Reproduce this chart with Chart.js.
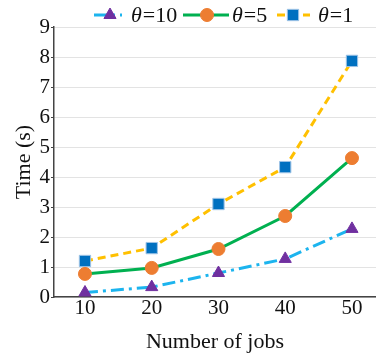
<!DOCTYPE html>
<html>
<head>
<meta charset="utf-8">
<script src="https://cdn.jsdelivr.net/npm/chart.js@4/dist/chart.umd.min.js"></script>
<style>
  html, body { margin: 0; padding: 0; background: #fff; }
</style>
</head>
<body>
<canvas id="chart" width="376" height="353"></canvas>
<script>
'use strict';

const jobs = [10, 20, 30, 40, 50];
const theta10 = [0.15, 0.33, 0.8, 1.27, 2.27];
const theta5 = [0.77, 0.97, 1.6, 2.7, 4.63];
const theta1 = [1.2, 1.63, 3.1, 4.33, 7.87];
const yTicks = [0, 1, 2, 3, 4, 5, 6, 7, 8, 9];
const legendLabels = ['10', '5', '1'];

const serif = '"Liberation Serif", "Times New Roman", serif';

const toXY = (vals) => vals.map((v, i) => ({ x: jobs[i], y: v }));

const datasets = [
    {
        label: 'θ=10',
        data: toXY(theta10),
        borderColor: '#1cb4ee',
        borderWidth: 3,
        borderDash: [13, 5, 3, 5],
        pointStyle: 'triangle',
        pointRadius: 7,
        pointBackgroundColor: '#7030a0',
        pointBorderColor: '#7030a0',
        pointBorderWidth: 1
    },
    {
        label: 'θ=5',
        data: toXY(theta5),
        borderColor: '#00b050',
        borderWidth: 3,
        pointStyle: 'circle',
        pointRadius: 6.5,
        pointBackgroundColor: '#ed7d31',
        pointBorderColor: '#ed7d31',
        pointBorderWidth: 1
    },
    {
        label: 'θ=1',
        data: toXY(theta1),
        borderColor: '#ffc000',
        borderWidth: 3,
        borderDash: [8, 5],
        pointStyle: 'rect',
        pointRadius: 8,
        pointBackgroundColor: '#0070c0',
        pointBorderColor: '#9dc3e6',
        pointBorderWidth: 1
    }
];

// legend drawn by hand: line + marker + label, like the original figure
const lineLegend = {
    id: 'lineLegend',
    afterDraw(chart) {
        const ctx = chart.ctx;
        const y = 15;
        const slots = [
            { x0: 94, x1: 122, mx: 110, tx: 131 },
            { x0: 183, x1: 229, mx: 207, tx: 232 },
            { x0: 277, x1: 310, mx: 293, tx: 318 }
        ];
        chart.data.datasets.forEach((ds, i) => {
            const s = slots[i];
            ctx.save();
            ctx.strokeStyle = ds.borderColor;
            ctx.lineWidth = 3;
            ctx.setLineDash(ds.borderDash || []);
            ctx.beginPath();
            ctx.moveTo(s.x0, y);
            ctx.lineTo(s.x1, y);
            ctx.stroke();
            ctx.setLineDash([]);
            ctx.fillStyle = ds.pointBackgroundColor;
            ctx.strokeStyle = ds.pointBorderColor;
            ctx.lineWidth = 1;
            Chart.helpers.drawPoint(ctx, {
                pointStyle: ds.pointStyle,
                radius: ds.pointRadius,
                rotation: 0,
                borderWidth: 1
            }, s.mx, y);
            ctx.fillStyle = '#111';
            ctx.textBaseline = 'middle';
            ctx.textAlign = 'left';
            ctx.font = 'italic 22px ' + serif;
            ctx.fillText('θ', s.tx, y + 1);
            const w = ctx.measureText('θ').width;
            ctx.font = '22px ' + serif;
            ctx.fillText('=' + legendLabels[i], s.tx + w + 1, y + 1);
            ctx.restore();
        });
    }
};

new Chart(document.getElementById('chart'), {
    type: 'line',
    data: { datasets: datasets },
    plugins: [lineLegend],
    options: {
        responsive: false,
        animation: false,
        layout: { autoPadding: false, padding: { top: 27, right: 0, left: 0, bottom: 0 } },
        plugins: {
            legend: { display: false },
            tooltip: { enabled: false }
        },
        scales: {
            x: {
                type: 'linear',
                min: 5.36,
                max: 53.6,
                afterBuildTicks: (scale) => {
                    scale.ticks = jobs.map(v => ({ value: v }));
                },
                afterFit: (scale) => {
                    scale.height = 56;
                    scale.paddingLeft = 0;
                    scale.paddingRight = 0;
                },
                grid: { display: false, drawTicks: false },
                border: { color: '#444', width: 1.5 },
                ticks: {
                    color: '#111',
                    padding: 1,
                    font: { family: serif, size: 21, lineHeight: 1 }
                },
                title: {
                    display: true,
                    text: 'Number of jobs',
                    color: '#111',
                    padding: 0,
                    font: { family: serif, size: 22, lineHeight: 1 }
                }
            },
            y: {
                min: 0,
                max: 9,
                afterBuildTicks: (scale) => {
                    scale.ticks = yTicks.map(v => ({ value: v }));
                },
                afterFit: (scale) => {
                    scale.width = 54;
                    scale.paddingTop = 0;
                    scale.paddingBottom = 0;
                },
                grid: {
                    color: '#e3e3e3',
                    lineWidth: 1,
                    tickLength: 3,
                    tickColor: '#444'
                },
                border: { color: '#444', width: 1.5 },
                ticks: {
                    color: '#111',
                    padding: 1,
                    font: { family: serif, size: 21 }
                },
                title: {
                    display: true,
                    text: 'Time (s)',
                    color: '#111',
                    padding: 0,
                    font: { family: serif, size: 22, lineHeight: 2.2 }
                }
            }
        }
    }
});
</script>
</body>
</html>
